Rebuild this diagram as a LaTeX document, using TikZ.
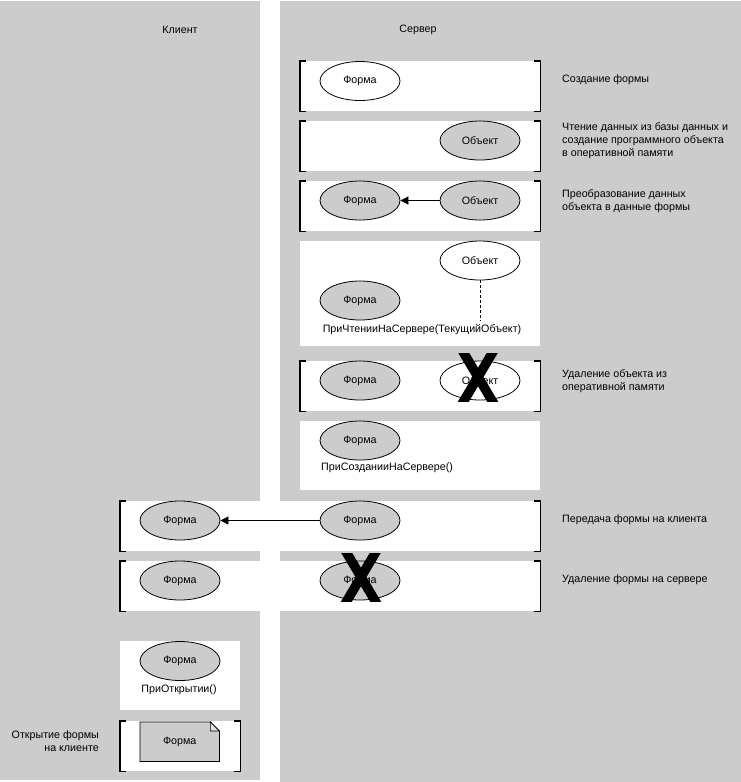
\documentclass[tikz,border=0pt]{standalone}
\usepackage{fontspec}
\setmainfont{Liberation Sans}
\usetikzlibrary{arrows.meta,shapes.geometric}
\definecolor{bgray}{HTML}{CCCCCC}
\definecolor{foldgray}{HTML}{E4E4E4}
\tikzset{
  lbl/.style={font=\fontsize{10.7}{13}\selectfont, inner sep=0pt},
  txt/.style={lbl, anchor=west, align=left},
  panel/.style={fill=white, draw=none, anchor=north west, inner sep=0pt},
  bracket/.style={line width=1.6pt},
  ell/.style={ellipse, draw, line width=0.8pt, minimum width=80, minimum height=39, inner sep=0pt, fill=bgray, font=\fontsize{10.7}{13}\selectfont},
  ellw/.style={ell, fill=white},
  conn/.style={line width=0.8pt, -{Triangle[length=8pt,width=8pt]}},
  cross/.style={line width=9.5pt, black}
}
\newcommand\brkts[1]{%
  \draw[bracket] ([xshift=6pt]#1.north west) -| (#1.south west) -- ([xshift=6pt]#1.south west);
  \draw[bracket] ([xshift=-6pt]#1.north east) -| (#1.south east) -- ([xshift=-6pt]#1.south east);}
\begin{document}
\begin{tikzpicture}[x=1pt,y=-1pt]
\useasboundingbox (0,0) rectangle (741,782);
\fill[white] (0,0) rectangle (741,782);
\fill[bgray] (0,1) rectangle (260,780);
\fill[bgray] (280,1) rectangle (741,782);

% headers
\node[lbl] (hc) at (180,30) {Клиент};
\node[lbl] (hs) at (418,30) {Сервер};

% panels
\node[panel, minimum width=240, minimum height=50] (p1) at (300,61) {};
\node[panel, minimum width=240, minimum height=50] (p2) at (300,121) {};
\node[panel, minimum width=240, minimum height=50] (p3) at (300,181) {};
\node[panel, minimum width=240, minimum height=105] (p4) at (300,241) {};
\node[panel, minimum width=240, minimum height=50] (p5) at (300,361) {};
\node[panel, minimum width=240, minimum height=69] (p6) at (300,421) {};
\node[panel, minimum width=420, minimum height=50] (p7) at (120,501) {};
\node[panel, minimum width=420, minimum height=50] (p8) at (120,561) {};
\node[panel, minimum width=120, minimum height=69] (p9) at (120,641) {};
\node[panel, minimum width=120, minimum height=50] (p10) at (120,721) {};
\brkts{p1}
\brkts{p2}
\brkts{p3}
\brkts{p5}
\brkts{p7}
\brkts{p8}
\brkts{p10}

% row 1
\node[ellw] (f1) at (360,81) {Форма};
% row 2
\node[ell] (o2) at (480,140.5) {Объект};
% row 3
\node[ell] (f3) at (360,200.5) {Форма};
\node[ell] (o3) at (480,200.5) {Объект};
\draw[conn] (o3) -- (f3);
% row 4
\node[ellw] (o4) at (480,260.5) {Объект};
\node[ell] (f4) at (360,300.5) {Форма};
\coordinate (d4) at (480,321);
\draw[line width=0.8pt, dash pattern=on 3pt off 2pt] (o4.south) -- (d4);
\node[lbl] (t4) at (422,330) {ПриЧтенииНаСервере(ТекущийОбъект)};
% row 5
\node[ell] (f5) at (360,380.5) {Форма};
\node[ellw] (o5) at (480,380.5) {Объект};
\begin{scope}
  \clip (440,353) rectangle (520,401);
  \draw[cross] (461.4,349) -- (494.6,405);
  \draw[cross] (494.6,349) -- (461.4,405);
\end{scope}
% row 6
\node[ell] (f6) at (360,440.5) {Форма};
\node[txt] (t6) at (321,468) {ПриСозданииНаСервере()};
% row 7
\node[ell] (fc7) at (180,520.5) {Форма};
\node[ell] (fs7) at (360,520.5) {Форма};
\draw[conn] (fs7) -- (fc7);
% row 8
\node[ell] (fc8) at (180,580.5) {Форма};
\node[ell] (fs8) at (360,580.5) {Форма};
\begin{scope}
  \clip (320,553) rectangle (400,601);
  \draw[cross] (344.4,549) -- (377.6,605);
  \draw[cross] (377.6,549) -- (344.4,605);
\end{scope}
% row 9
\node[ell] (fc9) at (180,661) {Форма};
\node[lbl] (t9) at (179,690) {ПриОткрытии()};
% row 10 document
\node[anchor=north west, minimum width=79, minimum height=39, inner sep=0pt] (doc) at (140,722) {};
\draw[line width=0.8pt, fill=bgray] (doc.north west) -- ([xshift=-9pt]doc.north east) -- ([yshift=-9pt]doc.north east) -- (doc.south east) -- (doc.south west) -- cycle;
\draw[line width=0.6pt, fill=foldgray] ([xshift=-9pt]doc.north east) -- ([xshift=-9pt,yshift=-9pt]doc.north east) -- ([yshift=-9pt]doc.north east) -- cycle;
\node[lbl] (doctext) at (doc.center) {Форма};

% right descriptions
\node[txt] (l1) at (562,80) {Создание формы};
\node[txt] (l2) at (562,141) {Чтение данных из базы данных и\\создание программного объекта\\в оперативной памяти};
\node[txt] (l3) at (562,201) {Преобразование данных\\объекта в данные формы};
\node[txt] (l5) at (562,381) {Удаление объекта из\\оперативной памяти};
\node[txt] (l7) at (562,520) {Передача формы на клиента};
\node[txt] (l8) at (562,580) {Удаление формы на сервере};
% left description
\node[lbl, anchor=east, align=right] (l10) at (99,741) {Открытие формы\\на клиенте};
\end{tikzpicture}
\end{document}
